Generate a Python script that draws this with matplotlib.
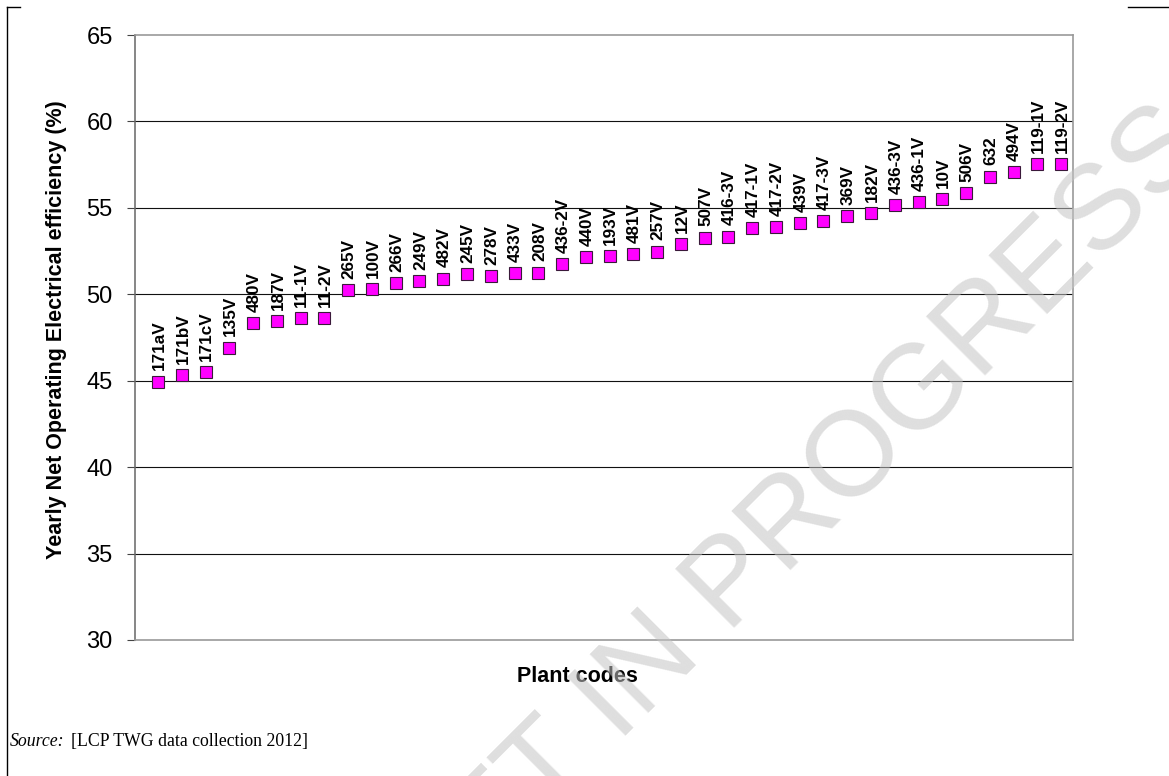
import matplotlib
matplotlib.use("Agg")
import matplotlib.pyplot as plt
from matplotlib.lines import Line2D

plant_codes = ["171aV", "171bV", "171cV", "135V", "480V", "187V", "11-1V", "11-2V",
               "265V", "100V", "266V", "249V", "482V", "245V", "278V", "433V", "208V",
               "436-2V", "440V", "193V", "481V", "257V", "12V", "507V", "416-3V",
               "417-1V", "417-2V", "439V", "417-3V", "369V", "182V", "436-3V",
               "436-1V", "10V", "506V", "632", "494V", "119-1V", "119-2V"]
efficiency = [44.95, 45.34, 45.49, 46.92, 48.32, 48.46, 48.65, 48.65,
              50.25, 50.29, 50.64, 50.79, 50.91, 51.16, 51.06, 51.22, 51.26,
              51.76, 52.14, 52.20, 52.35, 52.47, 52.91, 53.28, 53.34,
              53.82, 53.91, 54.13, 54.26, 54.55, 54.69, 55.17,
              55.32, 55.53, 55.84, 56.81, 57.06, 57.52, 57.52]
y_ticks = [30, 35, 40, 45, 50, 55, 60, 65]

plt.rcParams['font.family'] = ['Liberation Sans', 'DejaVu Sans']

W, H = 1169, 776
fig = plt.figure(figsize=(W / 100, H / 100), dpi=100)
ax = fig.add_axes([135 / W, 1 - 640 / H, (1073 - 135) / W, (640 - 35) / H])

x = list(range(len(plant_codes)))
ax.plot(x, efficiency, linestyle='none', marker='s', markersize=8.2,
        markerfacecolor='#FF00FF', markeredgecolor='#3a1a3a', markeredgewidth=0.8,
        zorder=3)
for xi, yi, lab in zip(x, efficiency, plant_codes):
    ax.annotate(lab, (xi, yi), xytext=(0.8, 8.0), textcoords='offset points',
                rotation=90, ha='center', va='bottom', fontsize=12.3,
                fontweight='bold', color='black', zorder=4)

ax.set_xlim(-0.97, 38.5)
ax.set_ylim(30, 65)
ax.set_yticks(y_ticks)
ax.set_xticks([])
ax.tick_params(axis='y', direction='out', length=6, width=0.8, color='#444444',
               labelsize=17, pad=10)
ax.yaxis.grid(True, color='#111111', linewidth=0.8)
gl = ax.yaxis.get_gridlines()
gl[0].set_visible(False)
gl[-1].set_visible(False)
ax.set_axisbelow(True)

ax.spines['left'].set_color('#666666')
ax.spines['left'].set_linewidth(1.1)
for s in ['top', 'right', 'bottom']:
    ax.spines[s].set_color('#999999')
    ax.spines[s].set_linewidth(1.2)

fig.text(57 / W, 1 - 330 / H, "Yearly Net Operating Electrical efficiency (%)",
         rotation=90, ha='center', va='center', fontsize=15.5, fontweight='bold')
fig.text(577 / W, 1 - 677 / H, "Plant codes", ha='center', va='center',
         fontsize=15.5, fontweight='bold')

fig.text(10 / W, 1 - 746 / H, "Source:", family='Liberation Serif', style='italic',
         fontsize=12.8, ha='left', va='baseline')
fig.text(71 / W, 1 - 746 / H, "[LCP TWG data collection 2012]", family='Liberation Serif',
         fontsize=12.8, ha='left', va='baseline')

# page border marks
fig.add_artist(Line2D([7 / W, 7 / W], [1 - 7 / H, 0], color='black', lw=1.0))
fig.add_artist(Line2D([7 / W, 20 / W], [1 - 7 / H, 1 - 7 / H], color='black', lw=1.0))
fig.add_artist(Line2D([1128 / W, 1], [1 - 7 / H, 1 - 7 / H], color='black', lw=1.0))

# watermark
fig.text(762 / W, 1 - 600 / H, "DRAFT IN PROGRESS", fontsize=87, rotation=45,
         rotation_mode='anchor', ha='center', va='baseline', color='#c4c4c4',
         alpha=0.55, zorder=10)

fig.savefig("out.png", dpi=100)
